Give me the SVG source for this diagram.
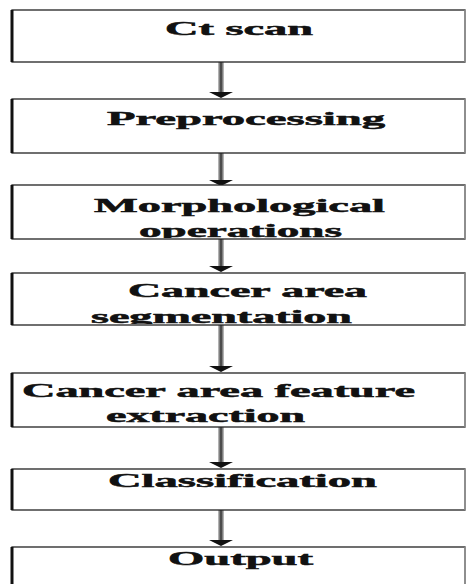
<svg xmlns="http://www.w3.org/2000/svg" width="466" height="584" viewBox="0 0 466 584">
<style>
.box{fill:#fff;stroke:#222;stroke-width:1.3}
.edge{stroke:#111;stroke-width:3}
.redge{stroke:#999;stroke-width:1.5}
.t{font-family:"Liberation Serif","Times New Roman",serif;font-weight:bold;font-size:18px;fill:#111;stroke:#111;stroke-width:0.5}
.shaft{fill:url(#sg)}
.head{fill:#111}
</style>
<defs>
<linearGradient id="sg" x1="0" x2="1" y1="0" y2="0">
<stop offset="0" stop-color="#ccc"/>
<stop offset="0.5" stop-color="#333"/>
<stop offset="1" stop-color="#ccc"/>
</linearGradient>
<clipPath id="c3"><rect x="0" y="185" width="466" height="53"/></clipPath>
<clipPath id="c4"><rect x="0" y="273" width="466" height="51"/></clipPath>
</defs>
<g id="connectors">
<rect class="shaft" x="218" y="62" width="6" height="31"/><polygon class="head" points="209,92 233,92 221,98"/>
<rect class="shaft" x="218" y="153" width="6" height="28"/><polygon class="head" points="209,180 233,180 221,186"/>
<rect class="shaft" x="218" y="239" width="6" height="28"/><polygon class="head" points="209,266 233,266 221,272"/>
<rect class="shaft" x="218" y="325" width="6" height="42"/><polygon class="head" points="209,366 233,366 221,372"/>
<rect class="shaft" x="218" y="427" width="6" height="36"/><polygon class="head" points="209,462 233,462 221,468"/>
<rect class="shaft" x="218" y="510" width="6" height="31"/><polygon class="head" points="209,540 233,540 221,546"/>
</g>
<g id="n1">
<rect class="box" x="12" y="10" width="453" height="52"/>
<line class="edge" x1="12" y1="10" x2="12" y2="62"/><line class="redge" x1="465" y1="10" x2="465" y2="62"/>
<text class="t" x="165" y="35" textLength="148" lengthAdjust="spacingAndGlyphs">Ct scan</text>
</g>
<g id="n2">
<rect class="box" x="12" y="99" width="453" height="54"/>
<line class="edge" x1="12" y1="99" x2="12" y2="153"/><line class="redge" x1="465" y1="99" x2="465" y2="153"/>
<text class="t" x="107" y="125" textLength="278" lengthAdjust="spacingAndGlyphs">Preprocessing</text>
</g>
<g id="n3">
<rect class="box" x="12" y="185" width="453" height="54"/>
<line class="edge" x1="12" y1="185" x2="12" y2="239"/><line class="redge" x1="465" y1="185" x2="465" y2="239"/>
<text class="t" x="94" y="212" textLength="291" lengthAdjust="spacingAndGlyphs">Morphological</text>
<text class="t" x="139" y="237" textLength="203" lengthAdjust="spacingAndGlyphs" clip-path="url(#c3)">operations</text>
</g>
<g id="n4">
<rect class="box" x="12" y="273" width="453" height="52"/>
<line class="edge" x1="12" y1="273" x2="12" y2="325"/><line class="redge" x1="465" y1="273" x2="465" y2="325"/>
<text class="t" x="128" y="297" textLength="239" lengthAdjust="spacingAndGlyphs">Cancer area</text>
<text class="t" x="91" y="323" textLength="261" lengthAdjust="spacingAndGlyphs" clip-path="url(#c4)">segmentation</text>
</g>
<g id="n5">
<rect class="box" x="12" y="373" width="453" height="54"/>
<line class="edge" x1="12" y1="373" x2="12" y2="427"/><line class="redge" x1="465" y1="373" x2="465" y2="427"/>
<text class="t" x="22" y="397" textLength="393" lengthAdjust="spacingAndGlyphs">Cancer area feature</text>
<text class="t" x="106" y="422" textLength="199" lengthAdjust="spacingAndGlyphs">extraction</text>
</g>
<g id="n6">
<rect class="box" x="12" y="469" width="453" height="41"/>
<line class="edge" x1="12" y1="469" x2="12" y2="510"/><line class="redge" x1="465" y1="469" x2="465" y2="510"/>
<text class="t" x="108" y="487" textLength="269" lengthAdjust="spacingAndGlyphs">Classification</text>
</g>
<g id="n7">
<rect class="box" x="12" y="547" width="453" height="50"/>
<line class="edge" x1="12" y1="547" x2="12" y2="597"/><line class="redge" x1="465" y1="547" x2="465" y2="597"/>
<text class="t" x="168" y="565" textLength="145" lengthAdjust="spacingAndGlyphs">Output</text>
</g>
</svg>
